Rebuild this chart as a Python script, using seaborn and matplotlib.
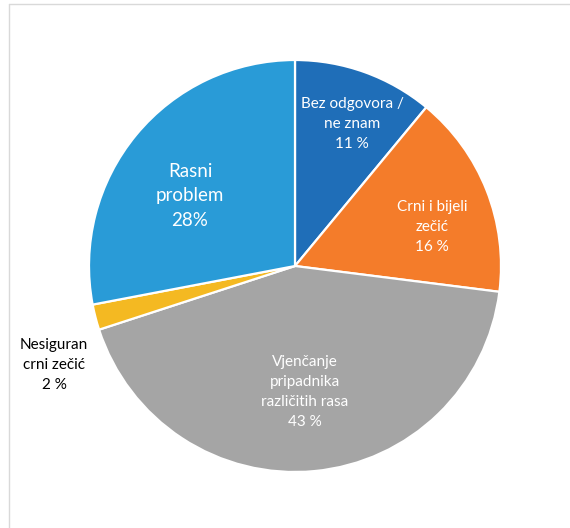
import matplotlib
matplotlib.use("Agg")
import matplotlib.pyplot as plt
import seaborn as sns
from matplotlib.lines import Line2D

# data (clockwise from top)
categories = ["Bez odgovora /\nne znam", "Crni i bijeli\nzečić", "Vjenčanje\npripadnika\nrazličitih rasa",
              "Nesiguran\ncrni zečić", "Rasni\nproblem"]
values = [11, 16, 43, 2, 28]
pct_labels = ["11 %", "16 %", "43 %", "2 %", "28%"]
colors = ["#1F6EB8", "#F47C2A", "#A5A5A5", "#F4B922", "#299BD7"]

sns.set_theme(style="white")
plt.rcParams['font.family'] = ['Lato', 'DejaVu Sans']

fig = plt.figure(figsize=(5.7, 5.28), dpi=100)
ax = fig.add_axes([0, 0, 1, 1])

R = 206.0
cx, cy = 295.0, 266.0
ax.pie(values, colors=colors, startangle=90, counterclock=False, radius=1,
       wedgeprops=dict(edgecolor="white", linewidth=1.6))
ax.set_xlim(-cx / R, (570 - cx) / R)
ax.set_ylim(-(528 - cy) / R, cy / R)
ax.set_aspect("equal")
ax.axis("off")

# label placement (pixel offsets from centre) and styles
label_pos = [(57, 142), (137, 39), (10, -126), (-241, -99), (-105, 70)]
label_col = ["white", "white", "white", "black", "white"]
label_size = [11, 11, 11, 11, 13.5]
for cat, pct, (dx, dy), col, fs in zip(categories, pct_labels, label_pos, label_col, label_size):
    ax.text(dx / R, dy / R, cat + "\n" + pct, ha="center", va="center", color=col,
            fontsize=fs, linespacing=1.55)

# chart frame (left and top edge visible)
fig.add_artist(Line2D([8.5 / 570, 8.5 / 570], [0, 1 - 3.5 / 528], transform=fig.transFigure,
                      color="#D9D9D9", lw=1))
fig.add_artist(Line2D([8.5 / 570, 1], [1 - 3.5 / 528, 1 - 3.5 / 528], transform=fig.transFigure,
                      color="#D9D9D9", lw=1))

fig.savefig("out.png", dpi=100)
